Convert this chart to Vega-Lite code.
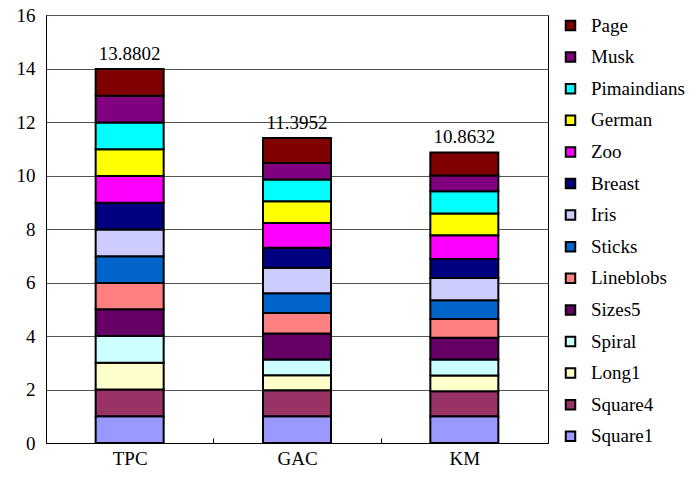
{
  "$schema": "https://vega.github.io/schema/vega-lite/v6.json",
  "autosize": {"type": "none"},
  "width": 502,
  "height": 428,
  "padding": {"left": 46, "top": 15, "right": 144, "bottom": 37},
  "background": "white",
  "config": {
    "font": "Liberation Serif",
    "view": {"stroke": "black", "strokeWidth": 1}
  },
  "datasets": {
    "segs": [
      {"method": "TPC", "dataset": "Square1", "ord": 1, "value": 1.0},
      {"method": "TPC", "dataset": "Square4", "ord": 2, "value": 1.0},
      {"method": "TPC", "dataset": "Long1", "ord": 3, "value": 1.0},
      {"method": "TPC", "dataset": "Spiral", "ord": 4, "value": 1.0},
      {"method": "TPC", "dataset": "Sizes5", "ord": 5, "value": 1.0},
      {"method": "TPC", "dataset": "Lineblobs", "ord": 6, "value": 0.98},
      {"method": "TPC", "dataset": "Sticks", "ord": 7, "value": 1.0},
      {"method": "TPC", "dataset": "Iris", "ord": 8, "value": 1.0},
      {"method": "TPC", "dataset": "Breast", "ord": 9, "value": 1.0},
      {"method": "TPC", "dataset": "Zoo", "ord": 10, "value": 1.0},
      {"method": "TPC", "dataset": "German", "ord": 11, "value": 1.0},
      {"method": "TPC", "dataset": "Pimaindians", "ord": 12, "value": 1.0},
      {"method": "TPC", "dataset": "Musk", "ord": 13, "value": 1.0},
      {"method": "TPC", "dataset": "Page", "ord": 14, "value": 1.0},
      {"method": "GAC", "dataset": "Square1", "ord": 1, "value": 1.0},
      {"method": "GAC", "dataset": "Square4", "ord": 2, "value": 0.97},
      {"method": "GAC", "dataset": "Long1", "ord": 3, "value": 0.56},
      {"method": "GAC", "dataset": "Spiral", "ord": 4, "value": 0.59},
      {"method": "GAC", "dataset": "Sizes5", "ord": 5, "value": 0.97},
      {"method": "GAC", "dataset": "Lineblobs", "ord": 6, "value": 0.77},
      {"method": "GAC", "dataset": "Sticks", "ord": 7, "value": 0.74},
      {"method": "GAC", "dataset": "Iris", "ord": 8, "value": 0.95},
      {"method": "GAC", "dataset": "Breast", "ord": 9, "value": 0.75},
      {"method": "GAC", "dataset": "Zoo", "ord": 10, "value": 0.92},
      {"method": "GAC", "dataset": "German", "ord": 11, "value": 0.82},
      {"method": "GAC", "dataset": "Pimaindians", "ord": 12, "value": 0.81},
      {"method": "GAC", "dataset": "Musk", "ord": 13, "value": 0.62},
      {"method": "GAC", "dataset": "Page", "ord": 14, "value": 0.9352},
      {"method": "KM", "dataset": "Square1", "ord": 1, "value": 1.0},
      {"method": "KM", "dataset": "Square4", "ord": 2, "value": 0.93},
      {"method": "KM", "dataset": "Long1", "ord": 3, "value": 0.59},
      {"method": "KM", "dataset": "Spiral", "ord": 4, "value": 0.6},
      {"method": "KM", "dataset": "Sizes5", "ord": 5, "value": 0.81},
      {"method": "KM", "dataset": "Lineblobs", "ord": 6, "value": 0.71},
      {"method": "KM", "dataset": "Sticks", "ord": 7, "value": 0.7},
      {"method": "KM", "dataset": "Iris", "ord": 8, "value": 0.83},
      {"method": "KM", "dataset": "Breast", "ord": 9, "value": 0.71},
      {"method": "KM", "dataset": "Zoo", "ord": 10, "value": 0.89},
      {"method": "KM", "dataset": "German", "ord": 11, "value": 0.81},
      {"method": "KM", "dataset": "Pimaindians", "ord": 12, "value": 0.83},
      {"method": "KM", "dataset": "Musk", "ord": 13, "value": 0.59},
      {"method": "KM", "dataset": "Page", "ord": 14, "value": 0.8632}
    ],
    "totals": [
      {"method": "TPC", "total": 13.8802, "top": 13.98},
      {"method": "GAC", "total": 11.3952, "top": 11.3952},
      {"method": "KM", "total": 10.8632, "top": 10.8632}
    ]
  },
  "layer": [
    {
      "data": {"name": "segs"},
      "mark": {"type": "bar", "size": 68, "stroke": "black", "strokeWidth": 2},
      "encoding": {
        "x": {
          "field": "method", "type": "nominal", "sort": ["TPC", "GAC", "KM"],
          "scale": {"paddingInner": 0, "paddingOuter": 0},
          "axis": {
            "title": null, "labelAngle": 0, "labelFont": "Liberation Serif", "labelFontSize": 19,
            "labelColor": "black", "labelPadding": 11, "domainColor": "black", "domainWidth": 1,
            "tickBand": "extent", "tickSize": -5, "tickColor": "black", "grid": false
          }
        },
        "y": {
          "field": "value", "type": "quantitative", "stack": "zero",
          "scale": {"domain": [0, 16], "nice": false},
          "axis": {
            "title": null, "values": [0, 2, 4, 6, 8, 10, 12, 14, 16], "grid": true,
            "gridColor": "#555555", "gridWidth": 1, "gridOpacity": 1,
            "ticks": false, "labelPadding": 11, "labelFont": "Liberation Serif",
            "labelFontSize": 19, "labelColor": "black", "domainColor": "black"
          }
        },
        "color": {
          "field": "dataset", "type": "nominal",
          "scale": {
            "domain": ["Page", "Musk", "Pimaindians", "German", "Zoo", "Breast", "Iris", "Sticks", "Lineblobs", "Sizes5", "Spiral", "Long1", "Square4", "Square1"],
            "range": ["#800000", "#800080", "#00FFFF", "#FFFF00", "#FF00FF", "#000080", "#CCCCFF", "#0066CC", "#FF8080", "#660066", "#CCFFFF", "#FFFFCC", "#993366", "#9999FF"]
          },
          "legend": {
            "title": null, "orient": "none", "legendX": 515, "legendY": 1,
            "symbolType": "square", "symbolSize": 90, "symbolStrokeColor": "black",
            "symbolStrokeWidth": 2, "symbolOpacity": 1,
            "labelFont": "Liberation Serif", "labelFontSize": 19, "labelColor": "black",
            "labelOffset": 11, "rowPadding": 11.6, "padding": 0
          }
        },
        "order": {"field": "ord", "type": "quantitative"}
      }
    },
    {
      "data": {"name": "totals"},
      "mark": {"type": "text", "baseline": "bottom", "dy": -5, "fontSize": 19, "font": "Liberation Serif", "color": "black"},
      "encoding": {
        "x": {"field": "method", "type": "nominal", "sort": ["TPC", "GAC", "KM"]},
        "y": {"field": "top", "type": "quantitative"},
        "text": {"field": "total", "type": "quantitative", "format": ".4f"}
      }
    }
  ]
}
